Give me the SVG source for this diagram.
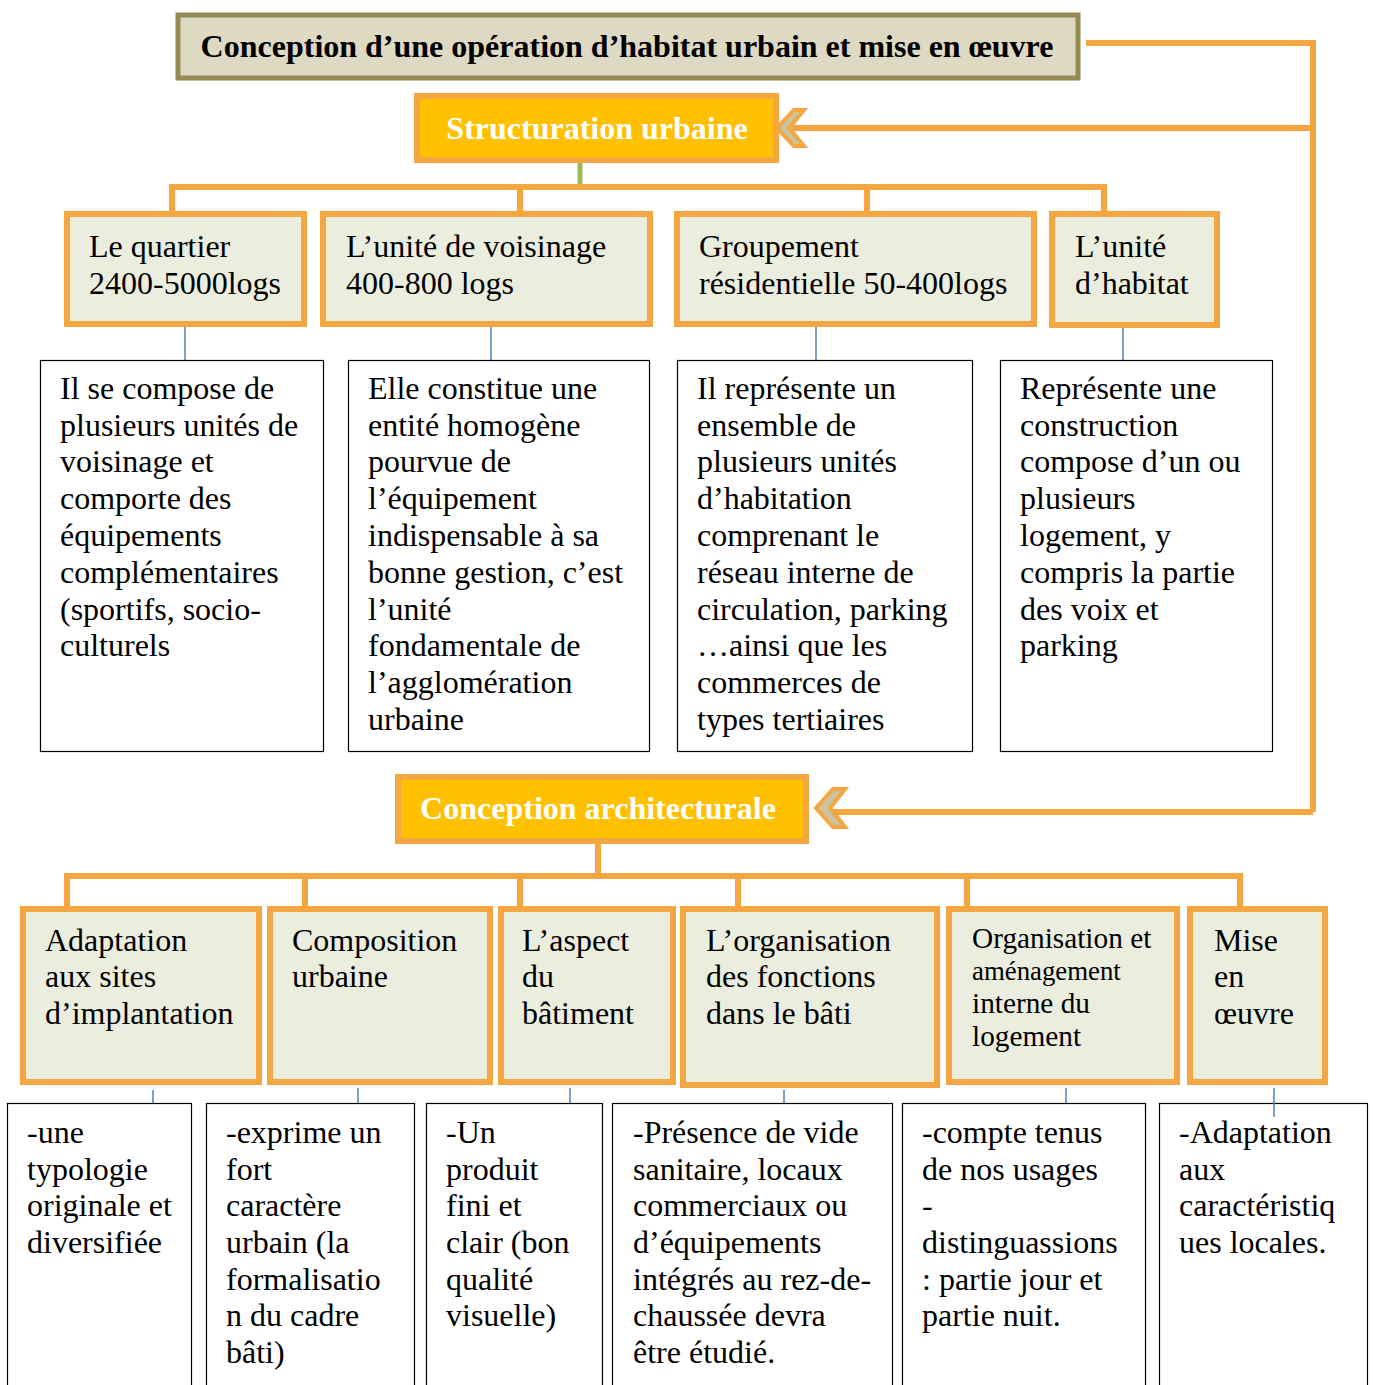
<svg xmlns="http://www.w3.org/2000/svg" width="1375" height="1385" viewBox="0 0 1375 1385">
<style>
text{font-family:"Liberation Serif","Times New Roman",serif;font-size:32px;fill:#000}
text.s27{font-size:29.3px}
text.s22{font-size:26.8px}
.hd{fill:#EBEEDE;stroke:#F4A641;stroke-width:6}
.main{fill:#FFC000;stroke:#F4A641;stroke-width:6}
.mt{font-weight:bold;fill:#fff;text-anchor:middle}
.desc{fill:#fff;stroke:#000;stroke-width:1.2}
.or{stroke:#F4A641;stroke-width:6;fill:none}
.bl{stroke:#4F81BD;stroke-width:1.5;fill:none}
.chev{fill:#CBC39F;stroke:#F4A641;stroke-width:4;stroke-linejoin:miter}
</style>
<rect width="1375" height="1385" fill="#fff"/>

<g id="connectors">
  <polyline class="or" points="1086,43 1313,43 1313,812"/>
  <line class="or" x1="1313" y1="128" x2="792" y2="128"/>
  <line class="or" x1="1313" y1="812" x2="833" y2="812"/>
  <polygon class="chev" points="777,128 794,110 804,110 789,128 804,146 794,146"/>
  <polygon class="chev" points="816,808 833,789 845,789 830,808 845,827 833,827"/>
  <line x1="580" y1="163" x2="580" y2="185" stroke="#9BBB59" stroke-width="5"/>
  <polyline class="or" points="172,213 172,187 1104,187 1104,213"/>
  <line class="or" x1="520" y1="187" x2="520" y2="213"/>
  <line class="or" x1="867" y1="187" x2="867" y2="213"/>
  <line class="bl" x1="185" y1="326" x2="185" y2="360"/>
  <line class="bl" x1="491" y1="326" x2="491" y2="360"/>
  <line class="bl" x1="816" y1="326" x2="816" y2="360"/>
  <line class="bl" x1="1123" y1="328" x2="1123" y2="360"/>
  <line class="or" x1="598" y1="843" x2="598" y2="876"/>
  <polyline class="or" points="67,908 67,876 1240,876 1240,908"/>
  <line class="or" x1="305" y1="876" x2="305" y2="908"/>
  <line class="or" x1="520" y1="876" x2="520" y2="908"/>
  <line class="or" x1="738" y1="876" x2="738" y2="908"/>
  <line class="or" x1="967" y1="876" x2="967" y2="908"/>
  <line class="bl" x1="153" y1="1090" x2="153" y2="1103"/>
  <line class="bl" x1="358" y1="1088" x2="358" y2="1103"/>
  <line class="bl" x1="570" y1="1088" x2="570" y2="1103"/>
  <line class="bl" x1="784" y1="1090" x2="784" y2="1103"/>
  <line class="bl" x1="1066" y1="1088" x2="1066" y2="1103"/>
  <line class="bl" x1="1274" y1="1088" x2="1274" y2="1117"/>
</g>

<g id="title">
  <rect x="178" y="15" width="900" height="63" fill="#DDD9C3" stroke="#948A54" stroke-width="5"/>
  <text x="627" y="57" text-anchor="middle" font-weight="bold">Conception d’une opération d’habitat urbain et mise en œuvre</text>
</g>

<g id="structuration">
  <rect class="main" x="417" y="96" width="359" height="64"/>
  <text class="mt" x="597" y="139">Structuration urbaine</text>
</g>

<g id="quartier">
  <rect class="hd" x="67" y="214" width="237" height="110"/>
  <text x="89" y="257">Le quartier</text>
  <text x="89" y="294">2400-5000logs</text>
</g>
<g id="voisinage">
  <rect class="hd" x="323" y="214" width="327" height="110"/>
  <text x="346" y="257">L’unité de voisinage</text>
  <text x="346" y="294">400-800 logs</text>
</g>
<g id="groupement">
  <rect class="hd" x="677" y="214" width="357" height="110"/>
  <text x="699" y="257">Groupement</text>
  <text x="699" y="294">résidentielle 50-400logs</text>
</g>
<g id="habitat">
  <rect class="hd" x="1052" y="214" width="165" height="111"/>
  <text x="1075" y="257">L’unité</text>
  <text x="1075" y="294">d’habitat</text>
</g>

<g id="desc-quartier">
  <rect class="desc" x="40.5" y="360.5" width="283" height="391"/>
  <text x="60" y="399">Il se compose de</text>
  <text x="60" y="436">plusieurs unités de</text>
  <text x="60" y="472">voisinage et</text>
  <text x="60" y="509">comporte des</text>
  <text x="60" y="546">équipements</text>
  <text x="60" y="583">complémentaires</text>
  <text x="60" y="620">(sportifs, socio-</text>
  <text x="60" y="656">culturels</text>
</g>
<g id="desc-voisinage">
  <rect class="desc" x="348.5" y="360.5" width="301" height="391"/>
  <text x="368" y="399">Elle constitue une</text>
  <text x="368" y="436">entité homogène</text>
  <text x="368" y="472">pourvue de</text>
  <text x="368" y="509">l’équipement</text>
  <text x="368" y="546">indispensable à sa</text>
  <text x="368" y="583">bonne gestion, c’est</text>
  <text x="368" y="620">l’unité</text>
  <text x="368" y="656">fondamentale de</text>
  <text x="368" y="693">l’agglomération</text>
  <text x="368" y="730">urbaine</text>
</g>
<g id="desc-groupement">
  <rect class="desc" x="677.5" y="360.5" width="295" height="391"/>
  <text x="697" y="399">Il représente un</text>
  <text x="697" y="436">ensemble de</text>
  <text x="697" y="472">plusieurs unités</text>
  <text x="697" y="509">d’habitation</text>
  <text x="697" y="546">comprenant le</text>
  <text x="697" y="583">réseau interne de</text>
  <text x="697" y="620">circulation, parking</text>
  <text x="697" y="656">…ainsi que les</text>
  <text x="697" y="693">commerces de</text>
  <text x="697" y="730">types tertiaires</text>
</g>
<g id="desc-habitat">
  <rect class="desc" x="1000.5" y="360.5" width="272" height="391"/>
  <text x="1020" y="399">Représente une</text>
  <text x="1020" y="436">construction</text>
  <text x="1020" y="472">compose d’un ou</text>
  <text x="1020" y="509">plusieurs</text>
  <text x="1020" y="546">logement, y</text>
  <text x="1020" y="583">compris la partie</text>
  <text x="1020" y="620">des voix et</text>
  <text x="1020" y="656">parking</text>
</g>

<g id="conception">
  <rect class="main" x="398" y="777" width="408" height="64"/>
  <text class="mt" x="598" y="819">Conception architecturale</text>
</g>

<g id="adaptation">
  <rect class="hd" x="23" y="909" width="236" height="173"/>
  <text x="45" y="951">Adaptation</text>
  <text x="45" y="987">aux sites</text>
  <text x="45" y="1024">d’implantation</text>
</g>
<g id="composition">
  <rect class="hd" x="270" y="909" width="220" height="173"/>
  <text x="292" y="951">Composition</text>
  <text x="292" y="987">urbaine</text>
</g>
<g id="aspect">
  <rect class="hd" x="501" y="909" width="172" height="173"/>
  <text x="522" y="951">L’aspect</text>
  <text x="522" y="987">du</text>
  <text x="522" y="1024">bâtiment</text>
</g>
<g id="organisation-fonctions">
  <rect class="hd" x="683" y="909" width="254" height="176"/>
  <text x="706" y="951">L’organisation</text>
  <text x="706" y="987">des fonctions</text>
  <text x="706" y="1024">dans le bâti</text>
</g>
<g id="organisation-logement">
  <rect class="hd" x="949" y="909" width="228" height="173"/>
  <text class="s27" x="972" y="948">Organisation et</text>
  <text class="s22" x="972" y="980">aménagement</text>
  <text class="s27" x="972" y="1013">interne du</text>
  <text class="s27" x="972" y="1046">logement</text>
</g>
<g id="mise-en-oeuvre">
  <rect class="hd" x="1190" y="909" width="135" height="173"/>
  <text x="1214" y="951">Mise</text>
  <text x="1214" y="987">en</text>
  <text x="1214" y="1024">œuvre</text>
</g>

<g id="desc-adaptation">
  <rect class="desc" x="7.5" y="1103.5" width="184" height="300"/>
  <text x="27" y="1143">-une</text>
  <text x="27" y="1180">typologie</text>
  <text x="27" y="1216">originale et</text>
  <text x="27" y="1253">diversifiée</text>
</g>
<g id="desc-composition">
  <rect class="desc" x="206.5" y="1103.5" width="208" height="300"/>
  <text x="226" y="1143">-exprime un</text>
  <text x="226" y="1180">fort</text>
  <text x="226" y="1216">caractère</text>
  <text x="226" y="1253">urbain (la</text>
  <text x="226" y="1290">formalisatio</text>
  <text x="226" y="1326">n du cadre</text>
  <text x="226" y="1363">bâti)</text>
</g>
<g id="desc-aspect">
  <rect class="desc" x="426.5" y="1103.5" width="176" height="300"/>
  <text x="446" y="1143">-Un</text>
  <text x="446" y="1180">produit</text>
  <text x="446" y="1216">fini et</text>
  <text x="446" y="1253">clair (bon</text>
  <text x="446" y="1290">qualité</text>
  <text x="446" y="1326">visuelle)</text>
</g>
<g id="desc-organisation-fonctions">
  <rect class="desc" x="612.5" y="1103.5" width="280" height="300"/>
  <text x="633" y="1143">-Présence de vide</text>
  <text x="633" y="1180">sanitaire, locaux</text>
  <text x="633" y="1216">commerciaux ou</text>
  <text x="633" y="1253">d’équipements</text>
  <text x="633" y="1290">intégrés au rez-de-</text>
  <text x="633" y="1326">chaussée devra</text>
  <text x="633" y="1363">être étudié.</text>
</g>
<g id="desc-organisation-logement">
  <rect class="desc" x="902.5" y="1103.5" width="243" height="300"/>
  <text x="922" y="1143">-compte tenus</text>
  <text x="922" y="1180">de nos usages</text>
  <text x="922" y="1216">-</text>
  <text x="922" y="1253">distinguassions</text>
  <text x="922" y="1290">: partie jour et</text>
  <text x="922" y="1326">partie nuit.</text>
</g>
<g id="desc-mise-en-oeuvre">
  <rect class="desc" x="1159.5" y="1103.5" width="208" height="300"/>
  <text x="1179" y="1143">-Adaptation</text>
  <text x="1179" y="1180">aux</text>
  <text x="1179" y="1216">caractéristiq</text>
  <text x="1179" y="1253">ues locales.</text>
</g>
<line class="bl" x1="1274" y1="1103" x2="1274" y2="1117"/>
</svg>
